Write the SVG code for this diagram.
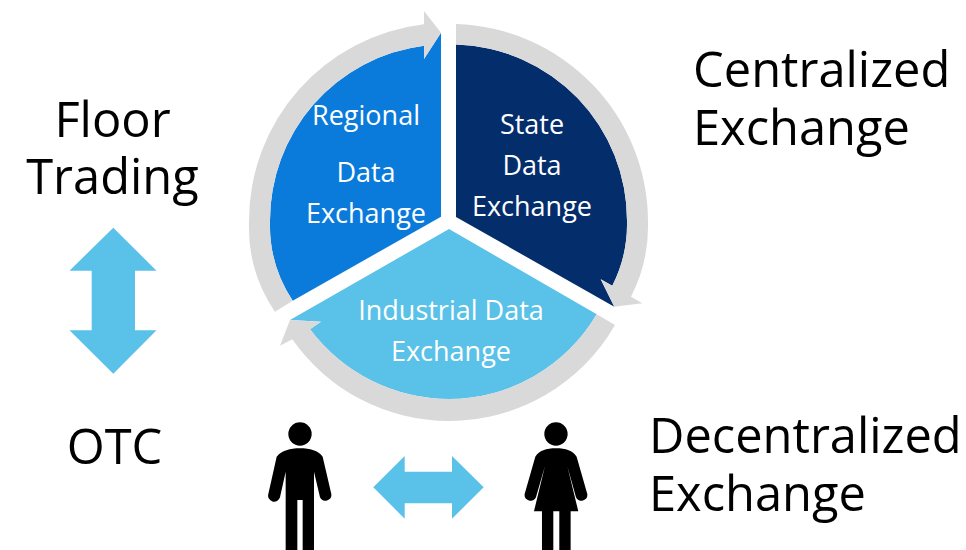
<svg xmlns="http://www.w3.org/2000/svg" width="966" height="550" viewBox="0 0 966 550">
<style>
text{font-family:"Open Sans","Noto Sans","Liberation Sans",sans-serif}
.big{font-size:48.8px;fill:#000}
.lab{font-size:27px;fill:#fff;text-anchor:middle}
.ring{fill:#d9d9d9}
.arr{fill:#5ac1e8}
</style>
<rect width="966" height="550" fill="#fff"/>
<g id="connectors">
<path class="arr" d="M113.3 227.7L156.5 270.7H135V330.3H156.5L113.3 373.8L69.5 330.3H91.7V270.7H69.5Z"/>
<path class="arr" d="M373.3 487.3L404.7 456V471.7H452V456L483.7 487.3L452 518.7V503.3H404.7V518.7Z"/>
</g>
<g id="state">
<path fill="#032d6b" d="M456 44.5A176 176 0 0 1 627 222A135 135 0 0 1 612.3 285.7L600.7 279.3L614.3 306.7L456 217Z"/>
<path class="ring" d="M456 24A198 198 0 0 1 648 222A155 155 0 0 1 631 296.7L642.3 303.3L614.3 306.7L600.7 279.3L612.3 285.7A135 135 0 0 0 627 222A176 176 0 0 0 456 44.5Z"/>
<text class="lab" x="532" y="134">State</text>
<text class="lab" x="532" y="175">Data</text>
<text class="lab" x="532" y="216">Exchange</text>
</g>
<g id="regional">
<path fill="#0a7bdb" d="M441 32.7L424 59V45.7A176 176 0 0 0 270 222A136 136 0 0 0 292.7 300.7L441 216.7Z"/>
<path class="ring" d="M424 24.3V11L441 32.7L424 59V45.7A176 176 0 0 0 270 222A136 136 0 0 0 292.7 300.7L275 311.7A150 150 0 0 1 249 222A198 198 0 0 1 424 24.3Z"/>
<text class="lab" x="366" y="125">Regional</text>
<text class="lab" x="366" y="182">Data</text>
<text class="lab" x="366" y="223">Exchange</text>
</g>
<g id="industrial">
<path class="arr" d="M449 229L596.7 314.3A172 172 0 0 1 449 399A175 175 0 0 1 310 329.3L321 321.7L290 320Z"/>
<path class="ring" d="M615 325L596.7 314.3A172 172 0 0 1 449 399A175 175 0 0 1 310 329.3L321 321.7L290 320L280 345.7L292.3 339.3A191 191 0 0 0 449 421A191 191 0 0 0 615 325Z"/>
<text class="lab" x="451" y="320">Industrial Data</text>
<text class="lab" x="451" y="361">Exchange</text>
</g>
<g id="floor-trading">
<text class="big" x="112.5" y="137" text-anchor="middle">Floor</text>
<text class="big" x="112.5" y="194" text-anchor="middle">Trading</text>
</g>
<g id="otc"><text class="big" x="114.5" y="464" text-anchor="middle">OTC</text></g>
<g id="centralized">
<text class="big" x="693" y="87">Centralized</text>
<text class="big" x="693" y="145">Exchange</text>
</g>
<g id="decentralized">
<text class="big" x="649" y="453">Decentralized</text>
<text class="big" x="649" y="511">Exchange</text>
</g>
<g id="man" transform="translate(260 410) scale(.3333)">
<circle cx="120" cy="72" r="35"/>
<path d="M120 115C150 115 175 122 188 140L214 252A18 18 0 0 1 180 262L162 185V420H128V270H112V420H77V185L60 262A18 18 0 0 1 25 252L50 140C65 122 90 115 120 115Z"/>
</g>
<g id="woman" transform="translate(260 410) scale(.3333)">
<circle cx="888" cy="72" r="35"/>
<path d="M888 115C918 115 938 122 950 140L982 252A18 18 0 0 1 948 262L922 168L955 304H932V420H898V304H880V420H846V304H822L855 168L828 262A18 18 0 0 1 794 252L826 140C838 122 858 115 888 115Z"/>
</g>
</svg>
